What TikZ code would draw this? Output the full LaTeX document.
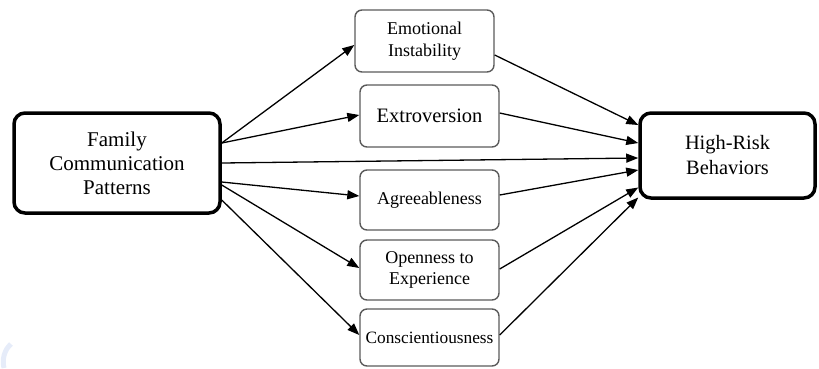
\documentclass[tikz,border=0pt]{standalone}
\usepackage{fontspec}
\setmainfont{Liberation Serif}
\usetikzlibrary{arrows.meta}
\definecolor{midgrey}{HTML}{5A5A5A}
\definecolor{wmark}{HTML}{E6ECF9}
\tikzset{
  bigbox/.style={draw=black, line width=3.5pt, rounded corners=11pt, align=center, inner sep=0pt},
  midbox/.style={draw=midgrey, line width=1.4pt, rounded corners=7pt, align=center, inner sep=0pt, minimum width=139pt},
  link/.style={draw=black, line width=1.3pt, -{Triangle[length=12pt,width=9pt]}}
}
\begin{document}
\begin{tikzpicture}[x=1pt,y=-1pt]
\useasboundingbox (0,0) rectangle (819,368);
% faint watermark fragment
\draw[wmark, line width=5pt] (11,344) .. controls (4,350) and (2,360) .. (4,368);

\node[bigbox, minimum width=206pt, minimum height=100pt, font={\fontsize{21}{24}\selectfont}] (fcp) at (117,163)
  {Family\\Communication\\Patterns};
\node[bigbox, minimum width=175pt, minimum height=85pt, font={\fontsize{20.4}{25}\selectfont}] (hrb) at (727.5,155.5)
  {High-Risk\\Behaviors};

\node[midbox, minimum height=62pt, font={\fontsize{18}{22}\selectfont}] (emo) at (424.5,41)
  {Emotional\\Instability};
\node[midbox, minimum height=62pt, font={\fontsize{20.5}{24}\selectfont}] (ext) at (429.5,116)
  {Extroversion};
\node[midbox, minimum height=60pt, font={\fontsize{18}{22}\selectfont}] (agr) at (429.5,200)
  {Agreeableness};
\node[midbox, minimum height=60pt, font={\fontsize{18}{21}\selectfont}] (ope) at (429.5,270)
  {Openness to\\Experience};
\node[midbox, minimum height=57pt, font={\fontsize{17.3}{21}\selectfont}] (con) at (429.5,337.5)
  {Conscientiousness};

% from Family Communication Patterns
\draw[link] ([yshift=20pt]fcp.east) -- ([yshift=-4pt]emo.west);
\draw[link] ([yshift=20pt]fcp.east) -- ([yshift=1pt]ext.west);
\draw[link] (fcp.east) -- ([yshift=-2.5pt]hrb.west);
\draw[link] ([yshift=-19pt]fcp.east) -- ([yshift=4pt]agr.west);
\draw[link] ([yshift=-22pt]fcp.east) -- ([yshift=2pt]ope.west);
\draw[link] ([yshift=-37pt]fcp.east) -- ([yshift=2.5pt]con.west);

% to High-Risk Behaviors
\draw[link] ([yshift=-14pt]emo.east) -- ([yshift=30.5pt]hrb.west);
\draw[link] ([yshift=3pt]ext.east) -- ([yshift=12.5pt]hrb.west);
\draw[link] ([yshift=5pt]agr.east) -- ([yshift=-14.5pt]hrb.west);
\draw[link] ([yshift=1pt]ope.east) -- ([yshift=-32pt]hrb.west);
\draw[link] ([yshift=2.5pt]con.east) -- ([yshift=-42pt]hrb.west);
\end{tikzpicture}
\end{document}
